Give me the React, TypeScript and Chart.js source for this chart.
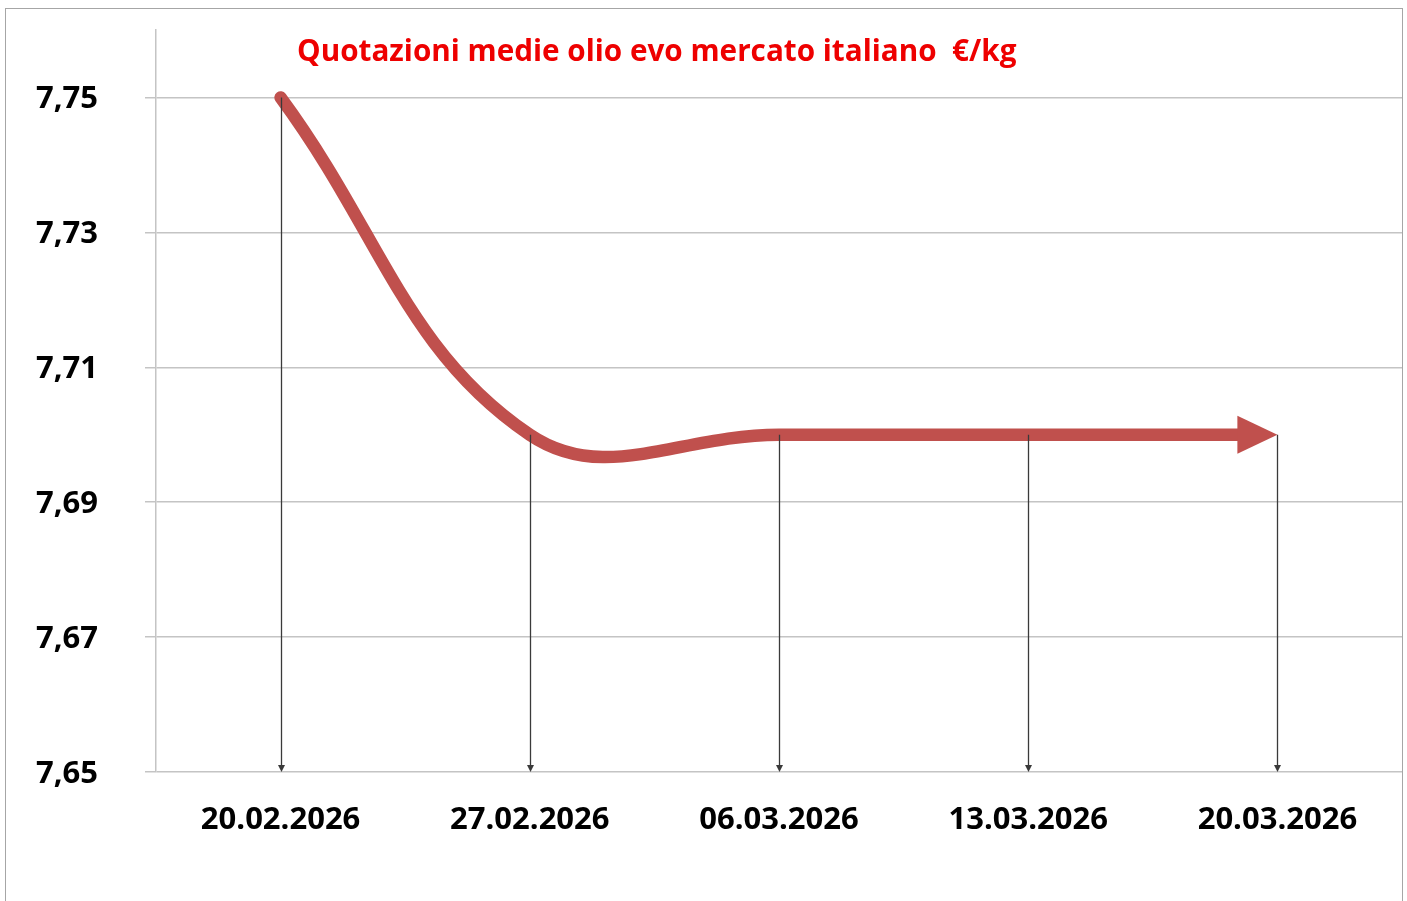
import React, { useEffect, useRef } from "react";
import { Chart, registerables } from "chart.js";

Chart.register(...registerables);

const TITLE = "Quotazioni medie olio evo mercato italiano  €/kg";
const DATES = ["20.02.2026", "27.02.2026", "06.03.2026", "13.03.2026", "20.03.2026"];
const PRICES = [7.75, 7.70, 7.70, 7.70, 7.70];
const Y_TICKS = [7.65, 7.67, 7.69, 7.71, 7.73, 7.75];
const Y_MIN = 7.65;
const Y_MAX = 7.76;

const LINE_COLOR = "#C0504D";
const GRID_COLOR = "#C4C4C4";
const DROP_COLOR = "#3A3A3A";
const FONT = "'Open Sans', 'DejaVu Sans', sans-serif";

const frame = {
  id: "frame",
  beforeDraw(chart: any) {
    const { ctx, width, height } = chart;
    ctx.save();
    ctx.fillStyle = "#FFFFFF";
    ctx.fillRect(0, 0, width, height);
    ctx.strokeStyle = "#A6A6A6";
    ctx.lineWidth = 1;
    ctx.strokeRect(5.5, 8.5, width - 10, height + 10);
    ctx.restore();
  },
  afterDraw(chart: any) {
    const { ctx } = chart;
    ctx.save();
    ctx.font = `bold 29.7px ${FONT}`;
    ctx.fillStyle = "#EE0000";
    ctx.textBaseline = "alphabetic";
    ctx.textAlign = "left";
    ctx.fillText(TITLE, 297, 61);
    ctx.restore();
  },
};

const arrowLine = {
  id: "arrowLine",
  beforeDatasetDraw(chart: any) {
    const meta = chart.getDatasetMeta(0);
    const last = meta.data[meta.data.length - 1];
    const { ctx } = chart;
    ctx.save();
    ctx.beginPath();
    ctx.rect(0, 0, last.x - 38, chart.height);
    ctx.clip();
  },
  afterDatasetDraw(chart: any) {
    const { ctx } = chart;
    ctx.restore();
    const meta = chart.getDatasetMeta(0);
    const last = meta.data[meta.data.length - 1];
    ctx.save();
    ctx.fillStyle = LINE_COLOR;
    ctx.beginPath();
    ctx.moveTo(last.x, last.y);
    ctx.lineTo(last.x - 40, last.y - 19);
    ctx.lineTo(last.x - 40, last.y + 19);
    ctx.closePath();
    ctx.fill();
    ctx.restore();
  },
  afterDatasetsDraw(chart: any) {
    const { ctx } = chart;
    const meta = chart.getDatasetMeta(0);
    const bottom = chart.scales.y.getPixelForValue(Y_MIN);
    ctx.save();
    ctx.strokeStyle = DROP_COLOR;
    ctx.fillStyle = DROP_COLOR;
    ctx.lineWidth = 1.3;
    meta.data.forEach((p: any) => {
      const x = Math.round(p.x) + 0.5;
      ctx.beginPath();
      ctx.moveTo(x, p.y);
      ctx.lineTo(x, bottom - 6);
      ctx.stroke();
      ctx.beginPath();
      ctx.moveTo(x - 3.5, bottom - 7);
      ctx.lineTo(x + 3.5, bottom - 7);
      ctx.lineTo(x, bottom);
      ctx.closePath();
      ctx.fill();
    });
    ctx.restore();
  },
};

export default function App() {
  const ref = useRef<HTMLCanvasElement | null>(null);

  useEffect(() => {
    document.body.style.margin = "0";
    const canvas = ref.current;
    if (!canvas) return;
    const chart = new Chart(canvas, {
      type: "line",
      data: {
        labels: DATES,
        datasets: [
          {
            data: PRICES,
            borderColor: LINE_COLOR,
            borderWidth: 12.5,
            borderCapStyle: "round",
            borderJoinStyle: "round",
            tension: 0.4,
            pointRadius: 0,
            pointHoverRadius: 0,
            fill: false,
          },
        ],
      },
      options: {
        responsive: false,
        animation: false,
        events: [],
        layout: { padding: { left: 0, right: 5, top: 30, bottom: 0 } },
        plugins: {
          legend: { display: false },
          title: { display: false },
          tooltip: { enabled: false },
        },
        scales: {
          x: {
            type: "category",
            offset: true,
            grid: { display: false, drawTicks: false },
            border: { display: false },
            ticks: {
              color: "#000000",
              font: { family: FONT, weight: "bold", size: 31 },
              padding: 30,
              maxRotation: 0,
              autoSkip: false,
            },
            afterFit(scale: any) {
              scale.height = 129;
              scale.paddingLeft = 0;
              scale.paddingRight = 0;
            },
          },
          y: {
            min: Y_MIN,
            max: Y_MAX,
            afterBuildTicks(scale: any) {
              scale.ticks = Y_TICKS.map((v) => ({ value: v }));
            },
            afterFit(scale: any) {
              scale.width = 156;
              scale.paddingTop = 0;
              scale.paddingBottom = 0;
            },
            grid: {
              color: GRID_COLOR,
              lineWidth: 1.5,
              tickLength: 11,
              drawTicks: true,
            },
            border: { display: true, color: GRID_COLOR, width: 1.5 },
            ticks: {
              color: "#000000",
              font: { family: FONT, weight: "bold", size: 31 },
              padding: 47,
              labelOffset: 2,
              callback: (v: any) => Number(v).toFixed(2).replace(".", ","),
            },
          },
        },
      },
      plugins: [frame, arrowLine],
    });
    return () => chart.destroy();
  }, []);

  return (
    <canvas
      ref={ref}
      width={1407}
      height={901}
      style={{ display: "block", width: "1407px", height: "901px" }}
    />
  );
}
